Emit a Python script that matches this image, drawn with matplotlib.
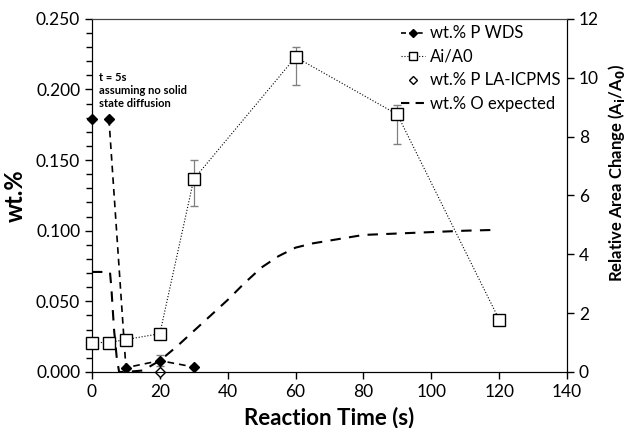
import matplotlib
matplotlib.use('Agg')
import matplotlib.pyplot as plt
from matplotlib.ticker import MultipleLocator, FormatStrFormatter
from matplotlib.lines import Line2D

plt.rcParams['font.family'] = ['Lato', 'DejaVu Sans']

# wt.% P WDS
wds_t = [0, 5, 10, 20, 30]
wds_p = [0.179, 0.179, 0.003, 0.008, 0.0035]
wds_err = [0, 0, 0, 0.004, 0]

# relative area change Ai/A0
area_t = [0, 5, 10, 20, 30, 60, 90, 120]
area_r = [1.0, 1.0, 1.1, 1.3, 6.55, 10.7, 8.75, 1.78]
area_err_lo = [0, 0, 0, 0, 0.9, 0.95, 1.0, 0]
area_err_hi = [0, 0, 0, 0, 0.65, 0.35, 0.33, 0]

# wt.% P LA-ICPMS
la_t = [20]
la_p = [0.0]

# wt.% O expected
ox_t = [0, 5.3, 5.7, 6.5, 7.3, 8.0, 10, 15, 20, 25, 30, 35, 40, 45, 50, 55, 60,
        65, 70, 75, 80, 90, 100, 110, 118]
ox_p = [0.0708, 0.0708, 0.060, 0.030, 0.010, 0.0, 0.0, 0.001, 0.008, 0.018,
        0.029, 0.040, 0.051, 0.063, 0.074, 0.082, 0.088, 0.091, 0.093, 0.095,
        0.097, 0.098, 0.099, 0.100, 0.1005]

fig = plt.figure(figsize=(6.3, 4.28), dpi=100)
ax1 = fig.add_axes([0.146, 0.131, 0.754, 0.825])
ax2 = ax1.twinx()

# O expected
ax1.plot(ox_t, ox_p, color='black', lw=1.5, ls=(0, (5, 4)), zorder=2)
# WDS
ax1.plot(wds_t[0], wds_p[0], marker='D', ms=5, color='black', ls='none',
         clip_on=False, zorder=4)
ax1.errorbar(wds_t[1:], wds_p[1:], yerr=wds_err[1:], color='black', lw=1.2,
             ls=(0, (4, 3)), marker='D', ms=5, ecolor='grey', elinewidth=0.8,
             capsize=3, zorder=4)
# LA-ICPMS
ax1.plot(la_t, la_p, marker='D', ms=5, mfc='white', mec='black', ls='none',
         clip_on=False, zorder=5)

# Ai/A0
eb = ax2.errorbar(area_t, area_r, yerr=[area_err_lo, area_err_hi], color='black',
                  lw=0.8, ls=':', marker='s', ms=8, mfc='white', mec='black', mew=1,
                  ecolor='grey', elinewidth=0.9, capsize=3, zorder=3)
eb[0].set_clip_on(False)

ax1.set_xlim(0, 140)
ax1.set_ylim(0, 0.25)
ax2.set_ylim(0, 12)
ax1.xaxis.set_major_locator(MultipleLocator(20))
ax1.yaxis.set_major_locator(MultipleLocator(0.05))
ax1.yaxis.set_minor_locator(MultipleLocator(0.01))
ax1.yaxis.set_major_formatter(FormatStrFormatter('%.3f'))
ax2.yaxis.set_major_locator(MultipleLocator(2))

ax1.tick_params(axis='both', labelsize=12.5, direction='out', length=5, width=1)
ax1.tick_params(axis='y', which='minor', direction='out', length=4, width=1)
ax2.tick_params(axis='y', labelsize=12.5, direction='out', length=5, width=1)

for ax in (ax1, ax2):
    ax.spines['top'].set_color('#444444')

ax1.set_xlabel('Reaction Time (s)', fontsize=16, fontweight='bold', labelpad=5)
ax1.set_ylabel('wt.%', fontsize=17, fontweight='bold')
ax1.yaxis.set_label_coords(-0.137, 0.5)
ax2.set_ylabel(r'Relative Area Change (A$_\mathbf{i}$/A$_\mathbf{0}$)',
               fontsize=12, fontweight='bold')
ax2.yaxis.set_label_coords(1.082, 0.564)

ax1.text(2, 0.186, 't = 5s\nassuming no solid\nstate diffusion', fontsize=8,
         fontweight='bold', va='bottom', ha='left', linespacing=1.25)

handles = [
    Line2D([], [], color='black', ls=(0, (3, 2)), lw=1.2, marker='D', ms=4),
    Line2D([], [], color='black', ls=':', lw=0.8, marker='s', ms=6, mfc='white'),
    Line2D([], [], color='black', ls='none', marker='D', ms=4, mfc='white'),
    Line2D([], [], color='black', ls=(0, (4, 3)), lw=1.5),
]
labels = ['wt.% P WDS', 'Ai/A0', 'wt.% P LA-ICPMS', 'wt.% O expected']
ax2.legend(handles, labels, loc='upper right', frameon=False, fontsize=12,
           handlelength=1.4, handletextpad=0.3, labelspacing=0.45,
           borderaxespad=0.2, borderpad=0.2)

fig.savefig('out.png', dpi=100)
